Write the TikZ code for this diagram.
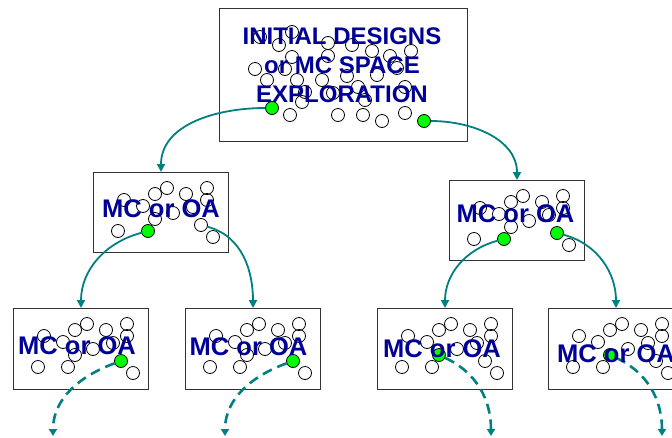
\documentclass[tikz,border=0pt]{standalone}
\usepackage{fontspec}
\setmainfont{Liberation Sans}
\usetikzlibrary{arrows.meta}
\definecolor{navyblue}{RGB}{0,0,153}
\definecolor{tealc}{RGB}{0,128,128}
\definecolor{dotgreen}{RGB}{0,255,0}
\tikzset{
  box/.style={draw=black!80, line width=1pt, fill=white, minimum width=135pt, minimum height=81pt, inner sep=0, anchor=north west},
  dot/.style={circle, draw=black, line width=0.8pt, minimum size=13pt, inner sep=0},
  gdot/.style={dot, fill=dotgreen},
  lbl/.style={text=navyblue, font=\bfseries\fontsize{25.5}{29}\selectfont, inner sep=0, anchor=base},
  toplbl/.style={text=navyblue, font=\bfseries\fontsize{24}{29}\selectfont, inner sep=0, anchor=north, align=center},
  link/.style={draw=tealc, line width=1.8pt, -{Triangle[length=8pt,width=8pt]}},
  dlink/.style={draw=tealc, line width=2.6pt, dash pattern=on 10pt off 6pt, -{Triangle[length=7pt,width=8pt]}}
}
\newcommand\dotpattern[5]{%
  \foreach \dx/\dy [count=\i] in {74/16,62/22,31/28,93/22,114/16,114/28,50/34,62/47,80/41,100/35,25/59,55/59,108/53,120/65}{
    \ifnum\i=#4 \def\st{gdot}\else\ifnum\i=#5 \def\st{gdot}\else\def\st{dot}\fi\fi
    \node[\st] (#1c\i) at ({#2+\dx},{#3+\dy}) {};
  }%
}
\begin{document}
\begin{tikzpicture}[x=1pt,y=-1pt]
\useasboundingbox (0,0) rectangle (672,437);
% boxes
\node[box, minimum width=248pt, minimum height=133pt] (top) at (219,8) {};
\node[box, minimum height=80pt] (ml) at (93,172) {};
\node[box, minimum height=80pt] (mr) at (449,180) {};
\node[box] (b1) at (13,308) {};
\node[box] (b2) at (185,308) {};
\node[box] (b3) at (377,308) {};
\node[box] (b4) at (548,308) {};
% top circles
\foreach \cx/\cy [count=\i] in {260/37,279/45,292/32,292/57,328/43,328/56,352/45,372/51,390/56,411/51,255/69,285/69,267/80,297/80,322/80,347/76,377/75,397/68,305/92,333/93,358/87,365/100,405/87,302/102,290/115,338/115,363/115,382/121,405/113}{
  \node[dot] (tc\i) at (\cx,\cy) {};
}
\node[gdot] (tg1) at (272,108) {};
\node[gdot] (tg2) at (424,121) {};
% box circles
\dotpattern{ml}{93}{172}{12}{0}
\dotpattern{mr}{449}{180}{12}{13}
\dotpattern{b1}{13}{308}{13}{0}
\dotpattern{b2}{185}{308}{13}{0}
\dotpattern{b3}{377}{308}{8}{0}
\dotpattern{b4}{548}{308}{8}{0}
% connectors
\draw[link] (tg1) to[out=180,in=90] (ml.north);
\draw[link] (tg2) to[out=0,in=90] (mr.north);
\draw[link] (mlc12) to[out=195,in=90] (b1.north);
\draw[link] (mlc13) to[out=-15,in=90] (b2.north);
\draw[link] (mrc12) to[out=195,in=90] (b3.north);
\draw[link] (mrc13) to[out=-15,in=90] (b4.north);
\coordinate (e1) at (53,436);
\coordinate (e2) at (225,436);
\coordinate (e3) at (491,436);
\coordinate (e4) at (662,436);
\draw[dlink] (b1c13) to[out=200,in=90] (e1);
\draw[dlink] (b2c13) to[out=200,in=90] (e2);
\draw[dlink] (b3c8) to[out=-25,in=90] (e3);
\draw[dlink] (b4c8) to[out=-25,in=90] (e4);
% labels
\node[toplbl] (ttext) at (342,27.5) {INITIAL DESIGNS\\or MC SPACE\\EXPLORATION};
\node[lbl] (mltext) at (161,217) {MC or OA};
\node[lbl] (mrtext) at (515.5,222) {MC or OA};
\node[lbl] (b1text) at (77,354) {MC or OA};
\node[lbl] (b2text) at (248.5,355) {MC or OA};
\node[lbl] (b3text) at (442,357) {MC or OA};
\node[lbl] (b4text) at (616,362) {MC or OA};
\end{tikzpicture}
\end{document}
